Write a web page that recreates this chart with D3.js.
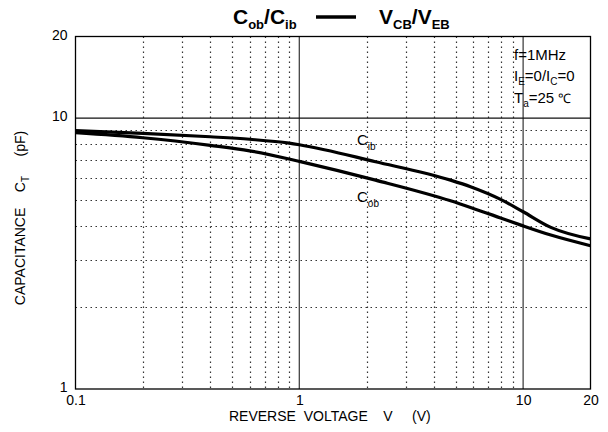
<!DOCTYPE html>
<html><head><meta charset="utf-8">
<script src="https://cdn.jsdelivr.net/npm/d3@7"></script>
<style>body{margin:0;background:#fff}svg{display:block}text{font-family:"Liberation Sans",Arial,sans-serif;fill:#000}</style>
</head><body><svg id="c" width="608" height="432"></svg>
<script>
const voltage = [0.1, 0.2, 0.4, 0.6, 0.9, 1, 2.19, 4.74, 5.82, 7.93, 10, 13.3, 20];
const cib = [8.98, 8.78, 8.53, 8.35, 8.08, 7.97, 6.9, 5.9, 5.58, 5.01, 4.51, 3.95, 3.58];
const cob = [8.83, 8.46, 7.93, 7.57, 7.06, 6.92, 5.9, 4.95, 4.68, 4.28, 4.0, 3.70, 3.38];
const xTicks = [0.1, 1, 10, 20];
const xTickLabels = ["0.1", "1", "10", "20"];
const yTicks = [1, 10, 20];
const yTickLabels = ["1", "10", "20"];
const xMinor = [0.2,0.3,0.4,0.5,0.6,0.7,0.8,0.9,2,3,4,5,6,7,8,9];
const yMinor = [2,3,4,5,6,7,8,9];

const svg = d3.select("#c");
const L = 75.5, R = 590.5, T = 36.5, B = 389;
const x = d3.scaleLog().domain([0.1, 20]).range([L, R]);
const y = d3.scaleLog().domain([1, 20]).range([B, T]);

const g = svg.append("g");
g.selectAll(".vm").data(xMinor).join("line")
  .attr("x1", d => Math.round(x(d)) + 0.5).attr("x2", d => Math.round(x(d)) + 0.5)
  .attr("y1", T).attr("y2", B)
  .attr("stroke", "#333").attr("stroke-width", 1.2).attr("stroke-dasharray", "1.5,3.5");
g.selectAll(".hm").data(yMinor).join("line")
  .attr("y1", d => Math.round(y(d)) + 0.5).attr("y2", d => Math.round(y(d)) + 0.5)
  .attr("x1", L).attr("x2", R)
  .attr("stroke", "#333").attr("stroke-width", 1.2).attr("stroke-dasharray", "1.5,3.5");
g.selectAll(".vM").data([1, 10]).join("line")
  .attr("x1", d => x(d)).attr("x2", d => x(d)).attr("y1", T).attr("y2", B)
  .attr("stroke", "#444").attr("stroke-width", 1.3);
g.selectAll(".hM").data([10]).join("line")
  .attr("y1", d => y(d)).attr("y2", d => y(d)).attr("x1", L).attr("x2", R)
  .attr("stroke", "#111").attr("stroke-width", 1.3);
g.append("rect").attr("x", L).attr("y", T).attr("width", R - L).attr("height", B - T)
  .attr("fill", "none").attr("stroke", "#000").attr("stroke-width", 1.3);

const xAxis = d3.axisBottom(x).tickValues(xTicks).tickSize(0).tickFormat((d, i) => xTickLabels[i]);
const xa = svg.append("g").attr("transform", `translate(0,${B})`).call(xAxis);
xa.select(".domain").remove();
xa.selectAll("text").attr("dy", 0).attr("y", 16).style("font-size", "14px").style("font-family", '"Liberation Sans",Arial,sans-serif').attr("fill", "#000");
const yAxis = d3.axisLeft(y).tickValues(yTicks).tickSize(0).tickFormat((d, i) => yTickLabels[i]);
const ya = svg.append("g").attr("transform", `translate(${L},0)`).call(yAxis);
ya.select(".domain").remove();
ya.selectAll("text").attr("x", -8).attr("dy", "0.2em").style("font-size", "14px").style("font-family", '"Liberation Sans",Arial,sans-serif').attr("fill", "#000");

const line = d3.line().x((d, i) => x(voltage[i])).y(d => y(d)).curve(d3.curveMonotoneX);
[cib, cob].forEach(s => {
  svg.append("path").attr("d", line(s)).attr("fill", "none").attr("stroke", "#000").attr("stroke-width", 3.2);
});

const t1 = svg.append("text").attr("x", 357).attr("y", 145).style("font-size", "15px");
t1.append("tspan").text("C");
t1.append("tspan").text("ib").style("font-size", "10px").attr("dy", 5);
const t2 = svg.append("text").attr("x", 357).attr("y", 202).style("font-size", "15px");
t2.append("tspan").text("C");
t2.append("tspan").text("ob").style("font-size", "10px").attr("dy", 5);

const tt = svg.append("text").attr("x", 233).attr("y", 24).style("font-size", "21px").style("font-weight", "bold");
tt.append("tspan").text("C");
tt.append("tspan").text("ob").style("font-size", "13px").attr("dy", 5);
tt.append("tspan").text("/C").attr("dy", -5);
tt.append("tspan").text("ib").style("font-size", "13px").attr("dy", 5);
svg.append("line").attr("x1", 316).attr("x2", 356).attr("y1", 17).attr("y2", 17).attr("stroke", "#000").attr("stroke-width", 3.5);
const tv = svg.append("text").attr("x", 379).attr("y", 24).style("font-size", "21px").style("font-weight", "bold");
tv.append("tspan").text("V");
tv.append("tspan").text("CB").style("font-size", "13px").attr("dy", 5);
tv.append("tspan").text("/V").attr("dy", -5);
tv.append("tspan").text("EB").style("font-size", "13px").attr("dy", 5);

svg.append("text").attr("x", 514).attr("y", 60).style("font-size", "15px").text("f=1MHz");
const c2 = svg.append("text").attr("x", 514).attr("y", 81).style("font-size", "15px");
c2.append("tspan").text("I");
c2.append("tspan").text("E").style("font-size", "10px").attr("dy", 4);
c2.append("tspan").text("=0/I").attr("dy", -4);
c2.append("tspan").text("C").style("font-size", "10px").attr("dy", 4);
c2.append("tspan").text("=0").attr("dy", -4);
const c3 = svg.append("text").attr("x", 514).attr("y", 103).style("font-size", "15px");
c3.append("tspan").text("T");
c3.append("tspan").text("a").style("font-size", "10px").attr("dy", 4);
c3.append("tspan").text("=25 ").attr("dy", -4);
c3.append("tspan").text("℃").style("font-size", "13px");

svg.append("text").attr("x", 229).attr("y", 421).style("font-size", "14px").attr("xml:space", "preserve")
  .text("REVERSE  VOLTAGE    V     (V)");
const yt = svg.append("text").attr("transform", "translate(25,218) rotate(-90)").attr("text-anchor", "middle").style("font-size", "14px").attr("xml:space", "preserve");
yt.append("tspan").text("CAPACITANCE    C");
yt.append("tspan").text("T").style("font-size", "10px").attr("dy", 4);
yt.append("tspan").text("     (pF)").attr("dy", -4);
</script></body></html>
